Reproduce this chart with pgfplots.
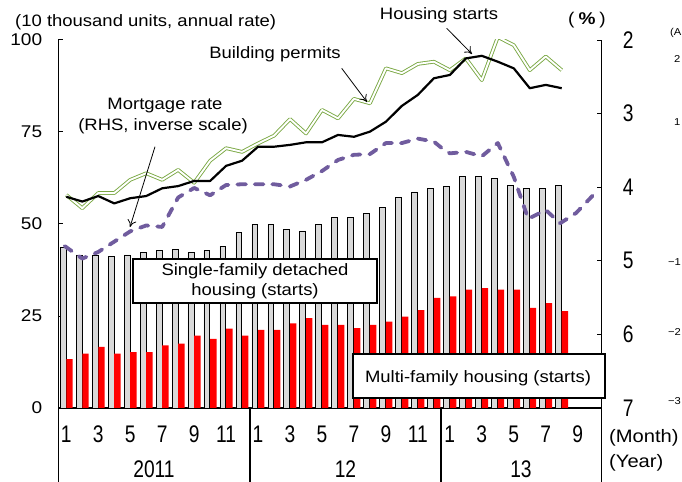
\documentclass[border=0pt]{standalone}
\usepackage{fontspec}
\setmainfont{Liberation Sans}[FakeStretch=1.12]
\newfontfamily\numfont{Liberation Sans}[FakeStretch=0.8]
\usepackage{pgfplots}
\pgfplotsset{compat=1.18}
\usetikzlibrary{arrows.meta}
\definecolor{barred}{RGB}{255,0,0}
\definecolor{bargray}{RGB}{217,217,217}
\definecolor{permgreen}{RGB}{122,168,67}
\definecolor{mortpurple}{RGB}{112,92,158}
\newcommand\txt{\fontsize{16.5bp}{21bp}\selectfont}
\newcommand\bignum{\numfont\fontsize{24bp}{24bp}\selectfont}
\begin{document}
\begin{tikzpicture}
\path[use as bounding box] (0,0) rectangle (682bp,482bp);
\begin{axis}[
 at={(58.3bp,74bp)}, anchor=south west, scale only axis,
 width=543.4bp, height=368bp,
 xmin=0.5, xmax=34.5, ymin=0, ymax=100,
 axis x line*=bottom, axis y line*=left,
 axis line style={-, line width=1.5pt, black},
 xtick=\empty,
 ytick={0,25,50,75,100}, yticklabels={0,25,50,75,100},
 yticklabel style={font=\fontsize{17bp}{17bp}\selectfont, anchor=east, inner sep=0pt, xshift=-16bp},
 tick align=inside, major tick length=5bp,
 tick style={black, line width=1pt},
]
% single-family detached starts
\addplot[ybar, bar width=0.37, bar shift=-0.2, fill=bargray, draw=black, line width=0.8pt] coordinates {
(1,43.6) (2,41.6) (3,41.6) (4,41.1) (5,41.6) (6,42.2) (7,42.7) (8,43.1) (9,42.2) (10,42.7)
(11,44.0) (12,47.7) (13,49.9) (14,49.9) (15,48.6) (16,48.1) (17,49.9) (18,51.7) (19,51.7) (20,52.8)
(21,54.6) (22,57.3) (23,58.7) (24,59.6) (25,60.1) (26,62.9) (27,62.9) (28,62.4) (29,60.5) (30,59.6)
(31,59.6) (32,60.5)};
% multi-family starts
\addplot[ybar, bar width=0.4, bar shift=0.2, fill=barred, draw=none] coordinates {
(1,13.3) (2,14.8) (3,16.6) (4,14.8) (5,15.2) (6,15.2) (7,17.0) (8,17.5) (9,19.7) (10,18.8)
(11,21.6) (12,19.7) (13,21.2) (14,21.2) (15,23.0) (16,24.4) (17,22.6) (18,22.6) (19,21.7) (20,22.6)
(21,23.5) (22,24.8) (23,26.6) (24,29.9) (25,30.3) (26,32.2) (27,32.6) (28,32.2) (29,32.2) (30,27.2)
(31,28.5) (32,26.3)};
% building permits
\addplot[draw=permgreen, line width=0.9pt, double=white, double distance=1.9pt, line join=round] coordinates {
(1,57.9) (2,54.3) (3,58.4) (4,58.4) (5,62.0) (6,63.8) (7,62.0) (8,64.7) (9,61.2) (10,67.2)
(11,70.6) (12,69.6) (13,71.9) (14,74.0) (15,78.5) (16,74.6) (17,81.0) (18,78.7) (19,84.0) (20,82.8)
(21,92.3) (22,91.0) (23,93.5) (24,94.1) (25,91.8) (26,95.0) (27,89.1) (28,100.8) (29,98.6) (30,91.8)
(31,95.5) (32,91.8)};
% housing starts
\addplot[black, line width=2.2pt, line join=round] coordinates {
(1,57.4) (2,56.1) (3,57.6) (4,55.6) (5,57.0) (6,57.6) (7,59.7) (8,60.3) (9,61.7) (10,61.7)
(11,65.8) (12,67.2) (13,71.0) (14,71.0) (15,71.5) (16,72.2) (17,72.2) (18,74.2) (19,73.7) (20,75.1)
(21,77.8) (22,82.1) (23,85.1) (24,89.6) (25,90.5) (26,95.0) (27,95.7) (28,94.1) (29,92.3) (30,86.9)
(31,87.8) (32,86.9)};
\end{axis}
\begin{axis}[
 at={(58.3bp,74bp)}, anchor=south west, scale only axis,
 width=543.4bp, height=368bp,
 xmin=0.5, xmax=34.5, ymin=2, ymax=7, y dir=reverse,
 axis y line*=right, axis x line=none,
 axis line style={-, line width=1.5pt, black},
 ytick={2,3,4,5,6,7}, yticklabels={2,3,4,5,6,7},
 yticklabel style={font=\bignum, anchor=west, inner sep=0pt, xshift=21bp},
 tick align=inside, major tick length=5bp,
 tick style={black, line width=1pt},
]
% mortgage rate (inverse scale)
\addplot[mortpurple, line width=3.8bp, dash pattern=on 8.5bp off 9bp, line cap=round, line join=round] coordinates {
(0.9,4.80) (2,4.97) (3,4.88) (4,4.74) (5,4.60) (6,4.52) (7,4.54) (8,4.14) (9,4.01) (10,4.11)
(11,3.97) (12,3.96) (13,3.96) (14,3.96) (15,3.99) (16,3.90) (17,3.78) (18,3.63) (19,3.56) (20,3.55)
(21,3.40) (22,3.40) (23,3.34) (24,3.38) (24.5,3.47) (25,3.54) (26,3.52) (27,3.58) (28,3.40) (29,3.86)
(29.9,4.43) (31,4.31) (31.9,4.49) (32.9,4.35) (34,4.10)};
\end{axis}
\begin{scope}[yshift=482bp, x=1bp, y=-1bp]
% category table below the axis
\foreach \xx in {58.3,250,441,601.7} \draw[line width=1.5pt] (\xx,408) -- (\xx,484);
\foreach \m/\l in {1/1,3/3,5/5,7/7,9/9,11/11,13/1,15/3,17/5,19/7,21/9,23/11,25/1,27/3,29/5,31/7,33/9}
  \node[anchor=base, inner sep=0pt] at ({58.3+(\m-0.5)*15.98}, 442.5) {\bignum \l};
\node[anchor=base, inner sep=0pt] at (154,477.5) {\bignum 2011};
\node[anchor=base, inner sep=0pt] at (345.5,477.5) {\bignum 12};
\node[anchor=base, inner sep=0pt] at (521,477.5) {\bignum 13};
\node[anchor=base west, inner sep=0pt] at (609,443) {\fontsize{18bp}{18bp}\selectfont (Month)};
\node[anchor=base west, inner sep=0pt] at (609,468) {\fontsize{18bp}{18bp}\selectfont (Year)};
% units
\node[anchor=base west, inner sep=0pt] at (15,26.7) {\txt (10 thousand units, annual rate)};
\node[anchor=base, inner sep=0pt] at (587,25) {\fontsize{17bp}{17bp}\selectfont (\hspace{4bp}\textbf{\%}\hspace{4bp})};
% series labels
\node[anchor=base, inner sep=0pt] at (439,20) {\txt Housing starts};
\draw[line width=0.8pt, -{To[length=7bp,width=9bp]}] (446.7,28.3) -- (472,54);
\node[anchor=base, inner sep=0pt] at (275,58.3) {\txt Building permits};
\draw[line width=0.8pt, -{To[length=7bp,width=9bp]}] (341.7,68.3) -- (367,102);
\node[anchor=base, inner sep=0pt] at (165,110) {\txt Mortgage rate};
\node[anchor=base, inner sep=0pt] at (163,131) {\txt (RHS, inverse scale)};
\draw[line width=0.8pt, -{To[length=7bp,width=9bp]}] (155,146.7) -- (130,227);
% boxes
\draw[line width=1.3pt, fill=white] (133,259) rectangle (377,303);
\node[anchor=base, inner sep=0pt] at (255,276) {\txt Single-family detached};
\node[anchor=base, inner sep=0pt] at (255,296) {\txt housing (starts)};
\draw[line width=1.3pt, fill=white] (353,354) rectangle (605,398);
\node[anchor=base, inner sep=0pt] at (478,383) {\txt Multi-family housing (starts)};
% visible fragments of a neighbouring chart at the right edge
\node[anchor=base west, inner sep=0pt] at (670,36) {\fontsize{10bp}{10bp}\selectfont (A};
\node[anchor=west, inner sep=0pt] at (674,59) {\fontsize{10bp}{10bp}\selectfont 2};
\node[anchor=west, inner sep=0pt] at (674,122) {\fontsize{10bp}{10bp}\selectfont 1};
\node[anchor=west, inner sep=0pt] at (668,262) {\fontsize{10bp}{10bp}\selectfont −1};
\node[anchor=west, inner sep=0pt] at (668,332) {\fontsize{10bp}{10bp}\selectfont −2};
\node[anchor=west, inner sep=0pt] at (668,401) {\fontsize{10bp}{10bp}\selectfont −3};
\end{scope}
\end{tikzpicture}
\end{document}
